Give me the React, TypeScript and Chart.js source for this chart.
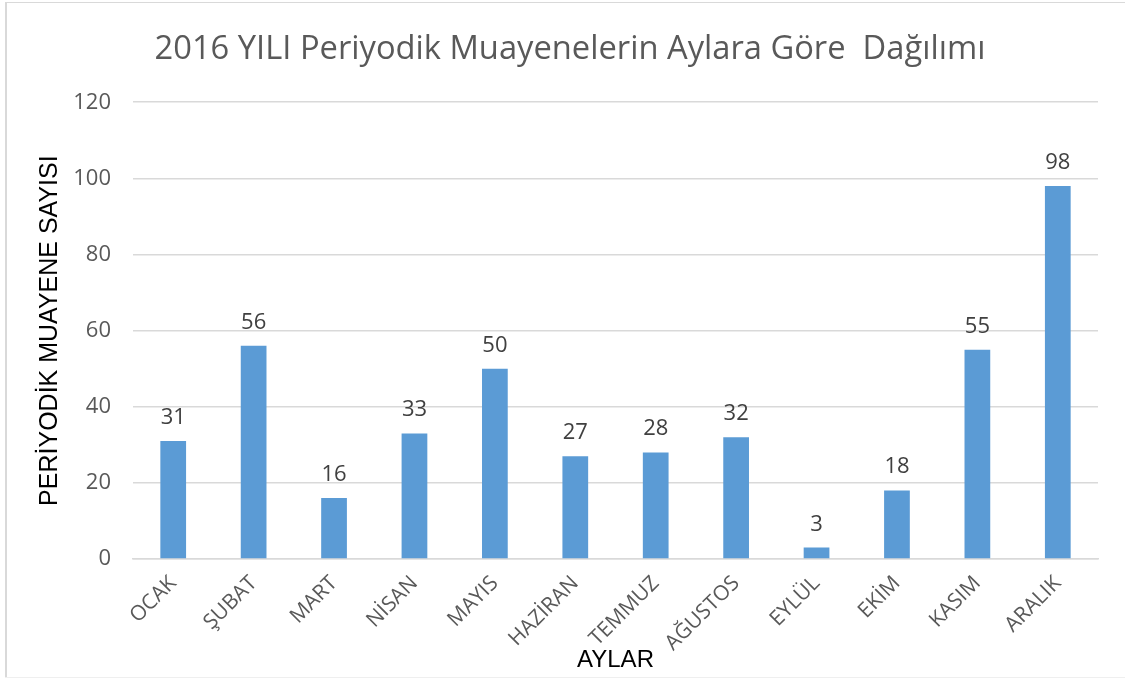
import React, { useEffect, useRef } from "react";
import { Chart, registerables } from "chart.js";

Chart.register(...registerables);

const months = ["OCAK", "ŞUBAT", "MART", "NİSAN", "MAYIS", "HAZİRAN", "TEMMUZ", "AĞUSTOS", "EYLÜL", "EKİM", "KASIM", "ARALIK"];
const counts = [31, 56, 16, 33, 50, 27, 28, 32, 3, 18, 55, 98];
const yTicks = [0, 20, 40, 60, 80, 100, 120];
const chartTitle = "2016 YILI Periyodik Muayenelerin Aylara Göre  Dağılımı";
const yTitle = "PERİYODİK MUAYENE SAYISI";
const xTitle = "AYLAR";

const frame = {
  id: "frame",
  beforeDraw(chart: any) {
    const { ctx, width, height } = chart;
    ctx.save();
    ctx.fillStyle = "#ffffff";
    ctx.fillRect(0, 0, width, height);
    ctx.fillStyle = "#d9d9d9";
    ctx.fillRect(5, 2, 2, height - 2);
    ctx.fillRect(5, 2, width - 5, 1);
    ctx.fillStyle = "#efefef";
    ctx.fillRect(5, height - 1, width - 5, 1);
    ctx.restore();
  },
};

const valueLabels = {
  id: "valueLabels",
  afterDatasetsDraw(chart: any) {
    const { ctx } = chart;
    const meta = chart.getDatasetMeta(0);
    const data = chart.data.datasets[0].data;
    ctx.save();
    ctx.font = "22px 'Open Sans'";
    ctx.fillStyle = "#404040";
    ctx.textAlign = "center";
    ctx.textBaseline = "alphabetic";
    meta.data.forEach((bar: any, i: number) => {
      ctx.fillText(String(data[i]), bar.x, bar.y - 17);
    });
    ctx.restore();
  },
};

export default function App() {
  const ref = useRef<HTMLCanvasElement>(null);
  useEffect(() => {
    if (!ref.current) return;
    const chart = new Chart(ref.current, {
      type: "bar",
      data: {
        labels: months,
        datasets: [
          {
            data: counts,
            backgroundColor: "#5b9bd5",
            barPercentage: 0.32,
            categoryPercentage: 1,
          },
        ],
      },
      options: {
        animation: false,
        responsive: false,
        layout: { padding: { left: 15, right: 0, top: 0, bottom: 0 } },
        plugins: {
          legend: { display: false },
          tooltip: { enabled: false },
          title: {
            display: true,
            text: chartTitle,
            color: "#595959",
            font: { family: "'Open Sans'", size: 32.7, weight: "normal" },
            padding: { top: 30, bottom: 33 },
          },
        },
        scales: {
          x: {
            grid: { display: false },
            border: { display: true, color: "#d9d9d9", width: 1.5 },
            ticks: {
              color: "#595959",
              font: { family: "'Open Sans'", size: 21 },
              maxRotation: 45,
              minRotation: 45,
              padding: 4,
            },
            title: {
              display: true,
              text: xTitle,
              color: "#000000",
              font: { family: "'Liberation Sans'", size: 24 },
              padding: { top: 0, bottom: 3 },
            },
            afterFit(scale: any) {
              scale.height = 119;
            },
          },
          y: {
            min: 0,
            max: 120,
            afterBuildTicks(scale: any) {
              scale.ticks = yTicks.map((v) => ({ value: v }));
            },
            grid: { color: "#d9d9d9", lineWidth: 1.5, drawTicks: false },
            border: { display: false },
            ticks: {
              color: "#595959",
              font: { family: "'Open Sans'", size: 22 },
              padding: 22,
            },
            title: {
              display: true,
              text: yTitle,
              color: "#000000",
              font: { family: "'Liberation Sans'", size: 25 },
              padding: { top: 20, bottom: 0 },
            },
            afterFit(scale: any) {
              scale.width = 118;
            },
          },
          yRight: {
            position: "right",
            display: true,
            grid: { display: false, drawTicks: false },
            border: { display: false },
            ticks: { display: false },
            afterFit(scale: any) {
              scale.width = 27;
            },
          },
        },
      },
      plugins: [frame, valueLabels],
    });
    return () => chart.destroy();
  }, []);
  return (
    <div style={{ position: "fixed", left: 0, top: 0, width: 1125, height: 678 }}>
      <canvas ref={ref} width={1125} height={678} style={{ display: "block", width: 1125, height: 678 }} />
    </div>
  );
}
